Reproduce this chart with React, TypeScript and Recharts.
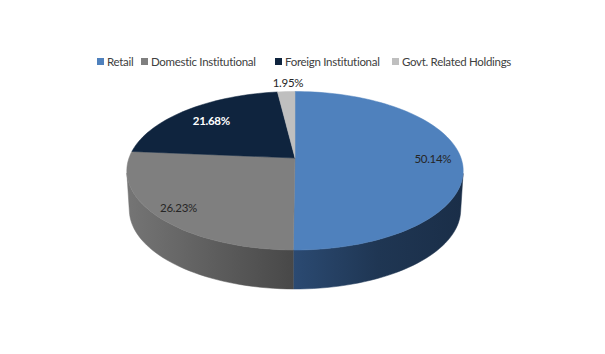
import { Legend, Pie, PieChart } from "recharts";

const segments = ["Retail", "Domestic Institutional", "Foreign Institutional", "Govt. Related Holdings"];
const shares = [50.14, 26.23, 21.68, 1.95];
const topColors = ["#4f81bd", "#7f7f7f", "#0f243e", "#bfbfbf"];
const labelColors = ["#262626", "#262626", "#ffffff", "#262626"];
const labelWeights = [400, 400, 700, 400];
const labelReach = [0.83, 0.86, 0.76, 1.17];
const labelShift = [0, 0, 0, 3];
const legendWidths = [44, 134, 117, 125];

const chartData = segments.map((name, i) => ({ name, value: shares[i], fill: topColors[i] }));

const FONT = "Lato, sans-serif";
const TILT = 0.161;
const SQUASH = 0.465;
const DEPTH = 39;
const BOTTOM_SCALE = 0.985;

// perspective projection of the flat pie, center stays at (cx, cy)
function project(cx: number, cy: number, r: number, deg: number, reach = 1) {
  const a = (deg * Math.PI) / 180;
  const x = reach * Math.cos(a);
  const y = reach * Math.sin(a);
  const d = 1 + TILT * y;
  return { x: cx + (r * x) / d, y: cy - (r * SQUASH * y) / d };
}

function arcPoints(cx: number, cy: number, r: number, from: number, to: number) {
  const steps = Math.max(2, Math.ceil(Math.abs(to - from) / 2));
  const pts = [];
  for (let i = 0; i <= steps; i++) {
    pts.push(project(cx, cy, r, from + ((to - from) * i) / steps));
  }
  return pts;
}

const toPath = (pts: { x: number; y: number }[]) =>
  pts.map((p, i) => `${i ? "L" : "M"}${p.x.toFixed(2)},${p.y.toFixed(2)}`).join(" ");

function Slice(props: any) {
  const { cx, cy, outerRadius, startAngle, endAngle, fill, index } = props;
  const arc = arcPoints(cx, cy, outerRadius, startAngle, endAngle);
  // widest line of the projected ellipse, the wall starts below it
  const waist = cy + (outerRadius * SQUASH * TILT) / (1 - TILT * TILT);
  const front = arc.filter((p) => p.y >= waist);
  let wall = null;
  if (front.length > 1) {
    const lower = front
      .map((p) => ({ x: cx + (p.x - cx) * BOTTOM_SCALE, y: p.y + DEPTH }))
      .reverse();
    wall = (
      <path
        d={`${toPath(front)} ${toPath(lower).replace("M", "L")} Z`}
        fill={`url(#wall${index})`}
        stroke={`url(#wall${index})`}
        strokeWidth={0.5}
      />
    );
  }
  return (
    <g>
      {wall}
      <path d={`M${cx},${cy} ${toPath(arc).replace("M", "L")} Z`} fill={fill} stroke={fill} strokeWidth={0.5} />
    </g>
  );
}

function SliceLabel(props: any) {
  const { cx, cy, outerRadius, midAngle, index, value } = props;
  const p = project(cx, cy, outerRadius, midAngle, labelReach[index]);
  return (
    <text
      x={p.x + labelShift[index]}
      y={p.y}
      textAnchor="middle"
      dominantBaseline="central"
      fontFamily={FONT}
      fontSize={11.5}
      letterSpacing={-0.3}
      fontWeight={labelWeights[index]}
      fill={labelColors[index]}
    >
      {value.toFixed(2)}%
    </text>
  );
}

function LegendRow() {
  return (
    <div
      style={{
        display: "flex",
        fontFamily: FONT,
        fontSize: 11.5,
        letterSpacing: -0.3,
        color: "#404040",
        paddingLeft: 97,
      }}
    >
      {segments.map((name, i) => (
        <span key={name} style={{ width: legendWidths[i], display: "flex", alignItems: "center", whiteSpace: "nowrap" }}>
          <span style={{ width: 7, height: 7, background: topColors[i], marginRight: 3, flex: "none" }} />
          {name}
        </span>
      ))}
    </div>
  );
}

export default function App() {
  return (
    <div style={{ position: "absolute", left: 0, top: 0, width: 605, height: 354, background: "#fff" }}>
      <PieChart width={605} height={354} margin={{ top: 0, right: 0, bottom: 0, left: 0 }}>
        <defs>
          <linearGradient id="wall0" x1="0" y1="0" x2="1" y2="0">
            <stop offset="0" stopColor="#2b4a72" />
            <stop offset="0.5" stopColor="#1f3653" />
            <stop offset="1" stopColor="#1a2e48" />
          </linearGradient>
          <linearGradient id="wall1" x1="0" y1="0" x2="1" y2="0">
            <stop offset="0" stopColor="#757575" />
            <stop offset="1" stopColor="#484848" />
          </linearGradient>
        </defs>
        <Legend
          verticalAlign="top"
          align="left"
          content={<LegendRow />}
          wrapperStyle={{ top: 55, left: 0, width: 605 }}
        />
        <Pie
          data={chartData}
          dataKey="value"
          nameKey="name"
          cx={295}
          cy={145}
          outerRadius={166}
          startAngle={90}
          endAngle={-270}
          stroke="none"
          shape={Slice}
          label={SliceLabel}
          labelLine={false}
          isAnimationActive={false}
        />
      </PieChart>
    </div>
  );
}
